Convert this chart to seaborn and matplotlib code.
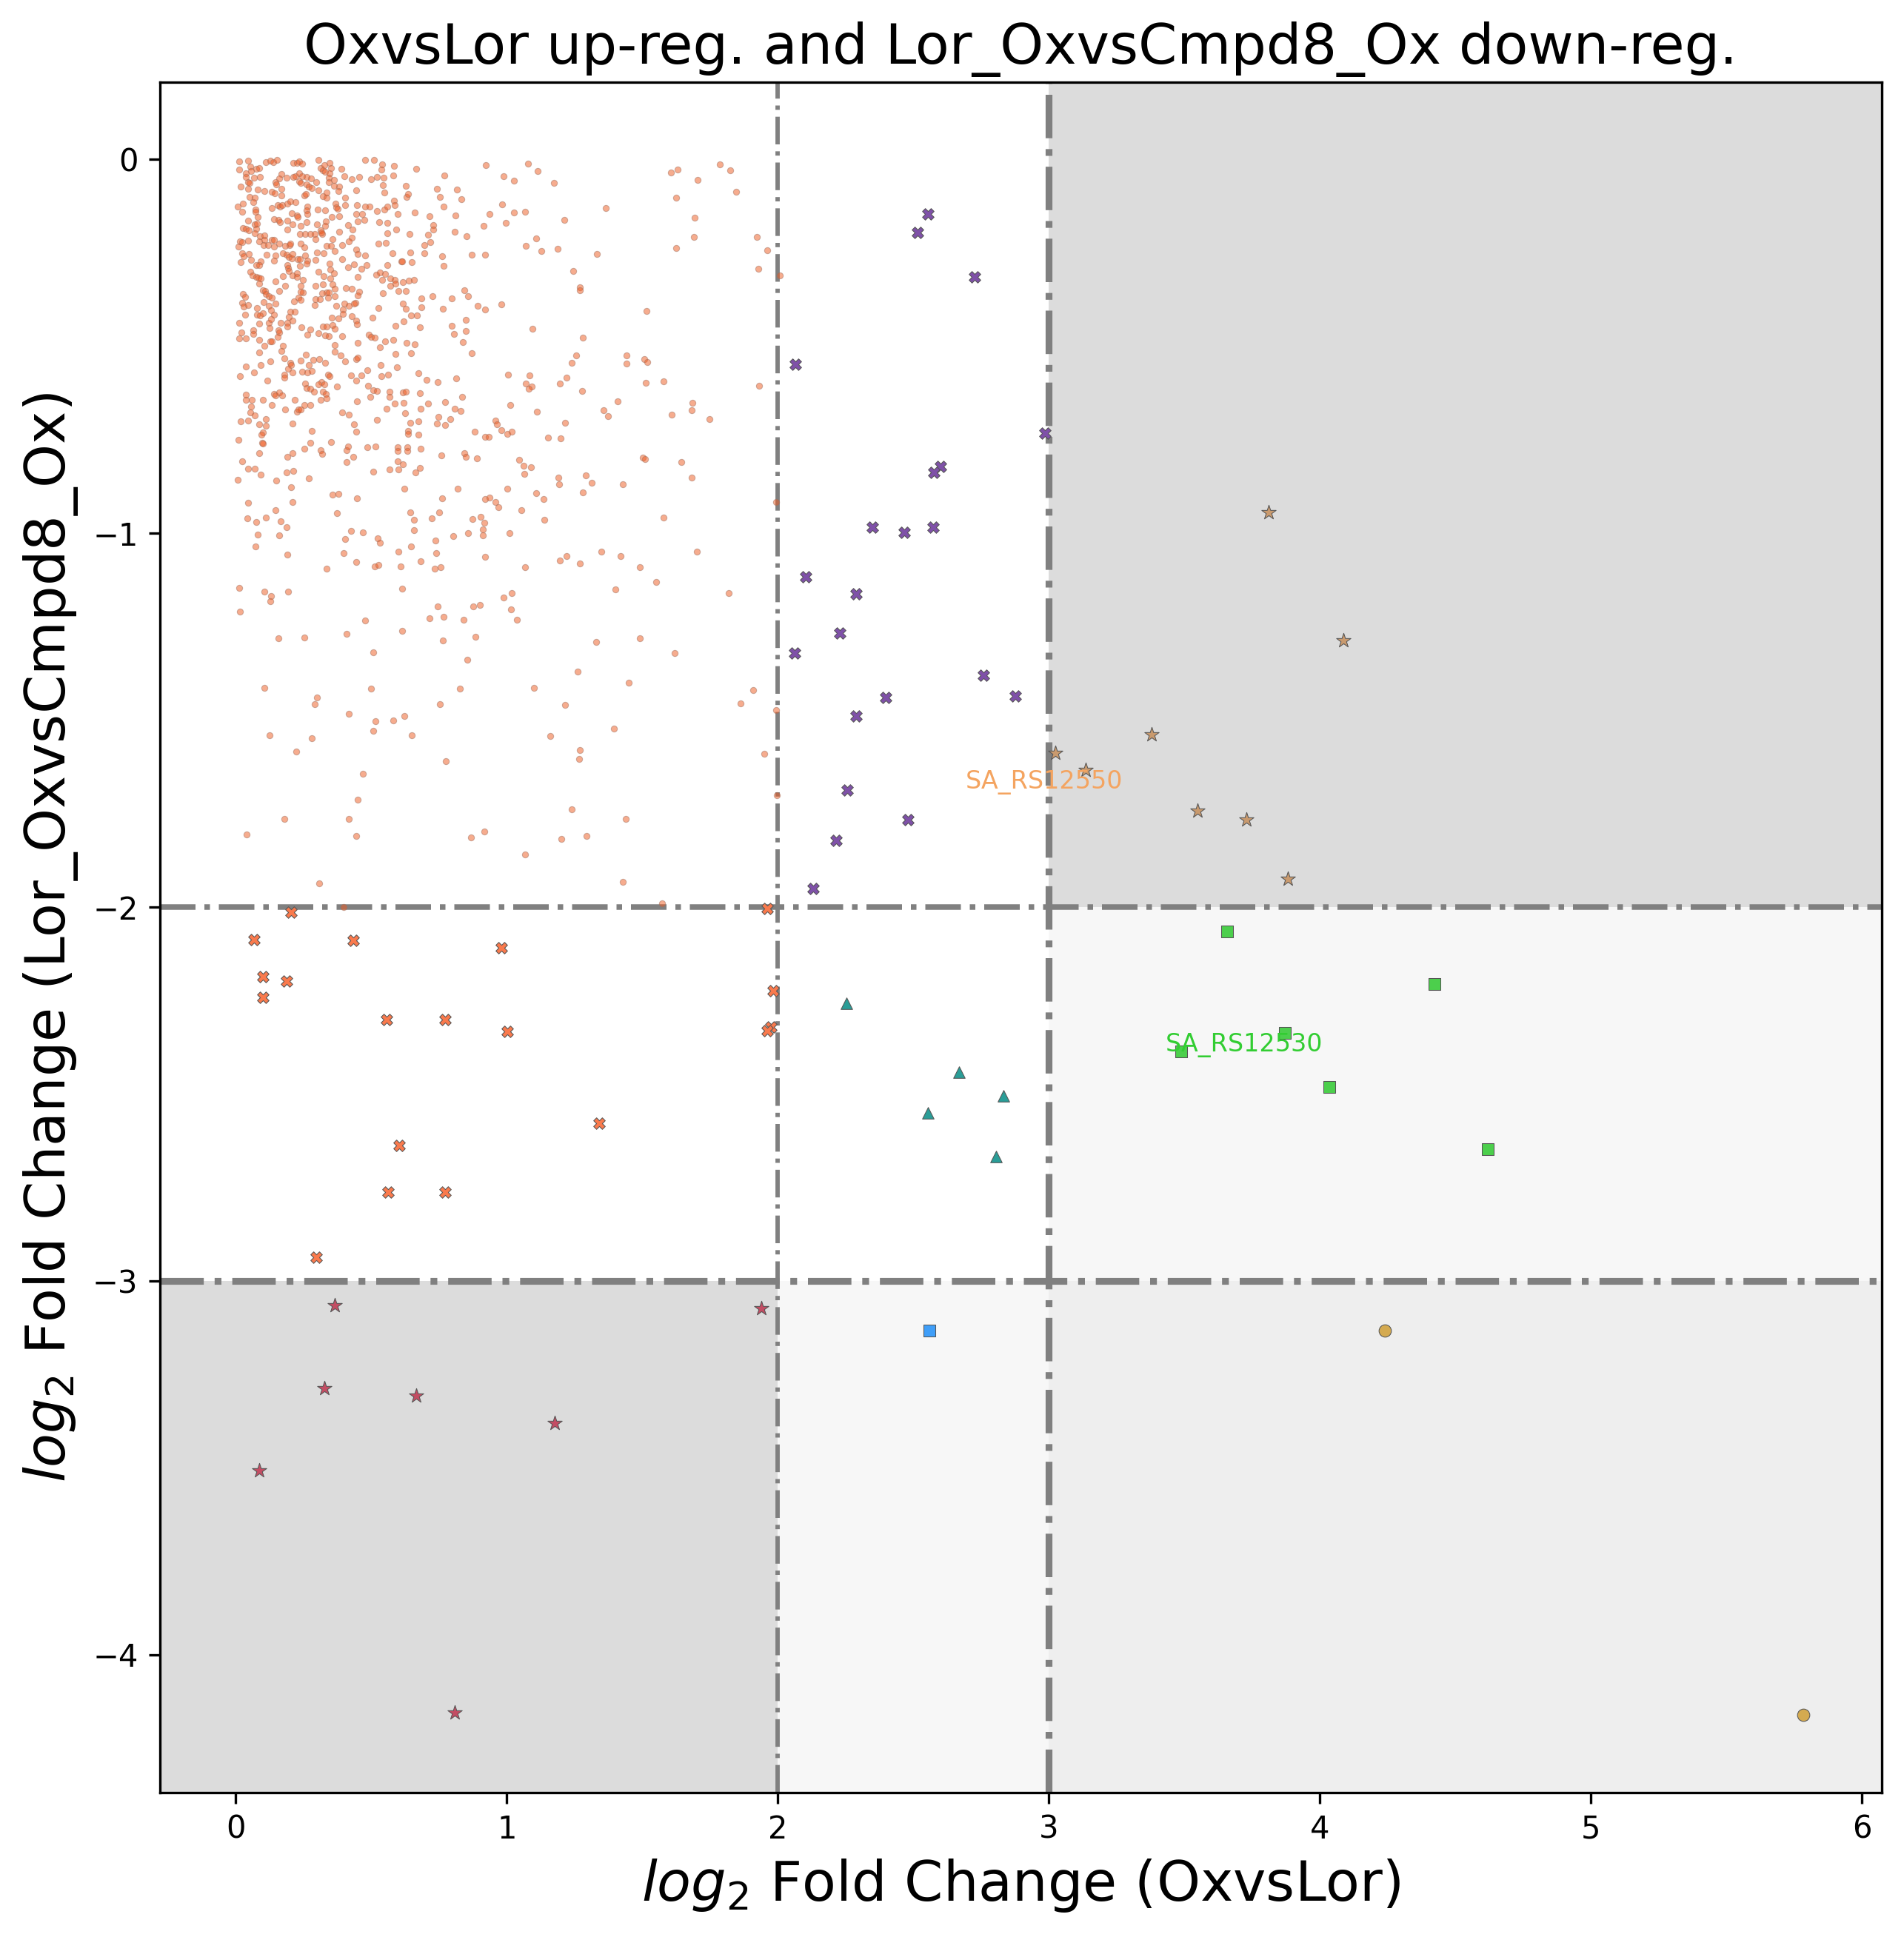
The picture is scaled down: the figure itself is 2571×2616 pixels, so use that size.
import numpy as np
import pandas as pd
import matplotlib
matplotlib.use("Agg")
import matplotlib.pyplot as plt
import seaborn as sns

# thresholds
X_LOW, X_HIGH = 2, 3
Y_HIGH, Y_LOW = -2, -3

# background genes (log2FC OxvsLor, log2FC Lor_OxvsCmpd8_Ox)
bg_points = [
    (0.012, -0.005), (0.046, -0.004), (0.053, -0.020), (0.074, -0.024), (0.086, -0.022), (0.111, -0.008),
    (0.126, -0.004), (0.139, -0.007), (0.151, -0.002), (0.012, -0.026), (0.037, -0.036), (0.056, -0.030),
    (0.212, -0.010), (0.226, -0.009), (0.235, -0.005), (0.244, -0.012), (0.306, -0.001), (0.314, -0.022),
    (0.328, -0.015), (0.345, -0.010), (0.350, -0.022), (0.320, -0.029), (0.329, -0.032), (0.389, -0.024),
    (0.476, -0.002), (0.511, -0.002), (0.540, -0.013), (0.583, -0.018), (0.582, -0.042), (0.536, -0.027),
    (0.665, -0.024), (0.769, -0.042), (0.923, -0.016), (1.079, -0.012), (1.114, -0.030), (0.988, -0.044),
    (1.027, -0.056), (1.174, -0.062),
    (0.037, -0.046), (0.068, -0.049), (0.090, -0.047), (0.045, -0.060), (0.050, -0.062), (0.019, -0.073),
    (0.044, -0.079), (0.082, -0.081), (0.106, -0.085), (0.168, -0.039), (0.188, -0.049), (0.159, -0.050),
    (0.211, -0.046), (0.220, -0.044), (0.234, -0.036), (0.246, -0.044), (0.261, -0.046), (0.277, -0.050),
    (0.234, -0.058), (0.240, -0.063), (0.260, -0.067), (0.268, -0.073), (0.280, -0.076), (0.296, -0.060),
    (0.304, -0.083), (0.346, -0.036), (0.343, -0.049), (0.342, -0.061), (0.362, -0.054), (0.380, -0.073),
    (0.361, -0.071), (0.378, -0.084), (0.400, -0.044), (0.429, -0.053), (0.456, -0.046), (0.500, -0.052),
    (0.520, -0.046), (0.545, -0.048), (0.543, -0.069), (0.547, -0.089), (0.626, -0.071), (0.443, -0.083),
    (0.145, -0.061), (0.149, -0.067), (0.133, -0.087), (0.144, -0.090), (0.168, -0.079), (0.742, -0.079),
    (0.816, -0.081), (0.752, -0.101), (0.832, -0.107),
    (0.050, -0.101), (0.070, -0.103), (0.065, -0.114), (0.008, -0.125), (0.025, -0.118), (0.024, -0.139),
    (0.073, -0.133), (0.073, -0.140), (0.082, -0.154), (0.134, -0.130), (0.155, -0.122), (0.164, -0.125),
    (0.172, -0.122), (0.191, -0.119), (0.202, -0.112), (0.221, -0.114), (0.169, -0.097), (0.252, -0.097),
    (0.257, -0.093), (0.265, -0.126), (0.260, -0.136), (0.303, -0.133), (0.329, -0.136), (0.321, -0.099),
    (0.334, -0.103), (0.336, -0.089), (0.368, -0.118), (0.370, -0.128), (0.376, -0.132), (0.402, -0.103),
    (0.404, -0.122), (0.447, -0.122), (0.478, -0.126), (0.493, -0.126), (0.522, -0.138), (0.549, -0.133),
    (0.560, -0.126), (0.584, -0.111), (0.586, -0.122), (0.629, -0.100), (0.636, -0.093), (0.597, -0.146),
    (0.659, -0.142), (0.714, -0.151), (0.767, -0.125), (0.810, -0.149), (0.936, -0.145), (0.983, -0.121),
    (1.027, -0.142), (1.068, -0.139), (1.212, -0.161),
    (0.046, -0.164), (0.069, -0.173), (0.079, -0.172), (0.027, -0.183), (0.037, -0.185), (0.049, -0.189),
    (0.076, -0.185), (0.069, -0.197), (0.140, -0.160), (0.156, -0.161), (0.164, -0.168), (0.190, -0.164),
    (0.210, -0.174), (0.226, -0.149), (0.229, -0.153), (0.206, -0.144), (0.240, -0.177), (0.262, -0.168),
    (0.265, -0.146), (0.299, -0.173), (0.331, -0.166), (0.329, -0.178), (0.313, -0.190), (0.319, -0.199),
    (0.355, -0.153), (0.381, -0.151), (0.382, -0.194), (0.415, -0.176), (0.431, -0.188), (0.428, -0.210),
    (0.475, -0.161), (0.451, -0.166), (0.444, -0.146), (0.466, -0.146), (0.528, -0.168), (0.560, -0.169),
    (0.558, -0.197), (0.591, -0.187), (0.640, -0.200), (0.728, -0.175), (0.728, -0.188), (0.807, -0.194),
    (0.851, -0.206), (0.914, -0.177), (0.996, -0.169), (0.709, -0.202), (1.107, -0.212), (0.191, -0.188),
    (0.237, -0.200), (0.256, -0.199), (0.274, -0.200), (0.291, -0.200), (0.293, -0.214), (0.317, -0.196),
    (0.010, -0.232), (0.014, -0.219), (0.024, -0.221), (0.044, -0.218), (0.088, -0.205), (0.105, -0.203),
    (0.087, -0.219), (0.105, -0.215), (0.132, -0.215), (0.141, -0.216), (0.103, -0.229), (0.118, -0.229),
    (0.140, -0.232), (0.159, -0.226), (0.181, -0.231), (0.197, -0.229), (0.202, -0.226), (0.240, -0.226),
    (0.252, -0.235), (0.334, -0.230), (0.352, -0.230), (0.366, -0.244), (0.358, -0.214), (0.392, -0.228),
    (0.418, -0.219), (0.444, -0.240), (0.449, -0.253), (0.525, -0.226), (0.553, -0.224), (0.579, -0.250),
    (0.612, -0.273), (0.645, -0.248), (0.648, -0.274), (0.696, -0.228), (0.718, -0.222), (0.695, -0.250),
    (0.761, -0.258), (0.766, -0.284), (0.870, -0.254), (0.920, -0.254), (1.070, -0.230), (1.128, -0.244),
    (1.187, -0.238), (0.022, -0.250), (0.048, -0.252), (0.030, -0.258), (0.057, -0.268), (0.018, -0.274),
    (0.092, -0.272), (0.114, -0.254), (0.145, -0.256), (0.140, -0.270), (0.173, -0.251), (0.187, -0.254),
    (0.196, -0.260), (0.207, -0.264), (0.209, -0.252), (0.227, -0.267), (0.236, -0.266), (0.255, -0.256),
    (0.263, -0.270), (0.293, -0.268), (0.299, -0.248), (0.325, -0.250), (0.347, -0.278), (0.393, -0.266),
    (0.435, -0.280), (0.478, -0.256),
    (0.053, -0.300), (0.061, -0.310), (0.076, -0.314), (0.084, -0.316), (0.093, -0.318), (0.085, -0.331),
    (0.076, -0.282), (0.085, -0.283), (0.147, -0.326), (0.174, -0.313), (0.183, -0.337), (0.191, -0.282),
    (0.192, -0.290), (0.195, -0.298), (0.210, -0.311), (0.225, -0.305), (0.226, -0.315), (0.236, -0.284),
    (0.247, -0.323), (0.240, -0.337), (0.261, -0.278), (0.304, -0.300), (0.294, -0.337), (0.324, -0.313),
    (0.320, -0.333), (0.348, -0.294), (0.363, -0.304), (0.348, -0.319), (0.358, -0.333), (0.413, -0.288),
    (0.463, -0.292), (0.482, -0.282), (0.449, -0.315), (0.517, -0.308), (0.531, -0.302), (0.551, -0.307),
    (0.539, -0.323), (0.559, -0.282), (0.570, -0.319), (0.569, -0.337), (0.586, -0.322), (0.590, -0.331),
    (0.616, -0.329), (0.637, -0.325), (0.657, -0.323), (0.614, -0.273), (0.599, -0.351), (0.626, -0.351),
    (0.099, -0.350), (0.107, -0.351), (0.026, -0.360), (0.035, -0.368), (0.022, -0.383), (0.029, -0.393),
    (0.046, -0.389), (0.110, -0.360), (0.121, -0.365), (0.132, -0.369), (0.146, -0.385), (0.102, -0.381),
    (0.079, -0.397), (0.101, -0.412), (0.035, -0.415), (0.078, -0.416), (0.088, -0.417), (0.123, -0.392),
    (0.129, -0.404), (0.140, -0.415), (0.161, -0.351), (0.215, -0.379), (0.231, -0.369), (0.238, -0.376),
    (0.247, -0.356), (0.202, -0.407), (0.218, -0.407), (0.195, -0.421), (0.208, -0.431), (0.239, -0.354),
    (0.290, -0.389), (0.294, -0.374), (0.310, -0.373), (0.318, -0.358), (0.335, -0.356), (0.343, -0.356),
    (0.341, -0.370), (0.365, -0.345), (0.364, -0.365), (0.406, -0.343), (0.428, -0.345), (0.454, -0.353),
    (0.449, -0.363), (0.442, -0.384), (0.437, -0.386), (0.370, -0.391), (0.400, -0.386), (0.396, -0.401),
    (0.394, -0.413), (0.418, -0.392), (0.427, -0.419), (0.354, -0.423), (0.378, -0.425), (0.504, -0.423),
    (0.527, -0.397), (0.543, -0.357), (0.616, -0.385), (0.626, -0.399), (0.685, -0.371), (0.684, -0.395),
    (0.725, -0.365), (0.764, -0.399), (0.796, -0.371), (0.843, -0.349), (0.857, -0.365), (0.892, -0.391),
    (0.920, -0.401), (0.980, -0.387), (0.646, -0.417), (0.669, -0.417),
    (0.012, -0.437), (0.021, -0.462), (0.013, -0.478), (0.037, -0.478), (0.063, -0.457), (0.063, -0.467),
    (0.085, -0.438), (0.085, -0.482), (0.121, -0.437), (0.124, -0.450), (0.130, -0.428), (0.126, -0.487),
    (0.134, -0.486), (0.156, -0.456), (0.159, -0.462), (0.154, -0.474), (0.166, -0.437), (0.190, -0.437),
    (0.191, -0.447), (0.104, -0.498), (0.174, -0.498), (0.241, -0.448), (0.275, -0.454), (0.265, -0.468),
    (0.306, -0.464), (0.321, -0.446), (0.334, -0.446), (0.329, -0.470), (0.343, -0.472), (0.356, -0.442),
    (0.365, -0.452), (0.391, -0.472), (0.445, -0.431), (0.446, -0.440), (0.449, -0.490), (0.490, -0.468),
    (0.500, -0.474), (0.513, -0.476), (0.552, -0.486), (0.580, -0.482), (0.588, -0.444), (0.618, -0.433),
    (0.629, -0.490), (0.659, -0.494), (0.678, -0.448), (0.796, -0.444), (0.805, -0.466), (0.838, -0.488),
    (0.849, -0.429), (0.849, -0.458), (1.095, -0.452), (0.531, -0.502), (0.588, -0.520), (0.646, -0.518),
    (0.871, -0.518),
    (0.087, -0.516), (0.167, -0.512), (0.178, -0.532), (0.200, -0.543), (0.204, -0.550), (0.194, -0.560),
    (0.210, -0.569), (0.093, -0.550), (0.126, -0.540), (0.036, -0.554), (0.068, -0.569), (0.015, -0.579),
    (0.115, -0.591), (0.178, -0.575), (0.178, -0.583), (0.238, -0.538), (0.245, -0.567), (0.257, -0.522),
    (0.264, -0.569), (0.270, -0.550), (0.280, -0.565), (0.287, -0.536), (0.307, -0.534), (0.329, -0.544),
    (0.341, -0.575), (0.347, -0.579), (0.366, -0.496), (0.366, -0.514), (0.388, -0.524), (0.404, -0.540),
    (0.445, -0.534), (0.451, -0.530), (0.425, -0.577), (0.445, -0.591), (0.462, -0.578), (0.484, -0.563),
    (0.534, -0.550), (0.536, -0.579), (0.561, -0.575), (0.594, -0.556), (0.675, -0.571), (0.704, -0.589),
    (0.744, -0.595), (0.813, -0.585), (1.005, -0.575), (1.085, -0.577), (1.070, -0.599), (1.092, -0.607),
    (1.082, -0.613), (1.196, -0.599), (1.221, -0.583),
    (0.036, -0.629), (0.036, -0.643), (0.058, -0.643), (0.057, -0.661), (0.054, -0.677), (0.071, -0.685),
    (0.101, -0.643), (0.134, -0.657), (0.140, -0.627), (0.145, -0.631), (0.160, -0.623), (0.171, -0.631),
    (0.183, -0.669), (0.218, -0.643), (0.225, -0.675), (0.232, -0.669), (0.240, -0.668), (0.255, -0.599),
    (0.260, -0.611), (0.275, -0.614), (0.288, -0.621), (0.315, -0.595), (0.304, -0.601), (0.326, -0.601),
    (0.320, -0.621), (0.332, -0.627), (0.334, -0.639), (0.314, -0.643), (0.254, -0.657), (0.274, -0.657),
    (0.374, -0.607), (0.391, -0.677), (0.416, -0.682), (0.447, -0.646), (0.487, -0.605), (0.496, -0.635),
    (0.507, -0.617), (0.521, -0.619), (0.566, -0.621), (0.566, -0.635), (0.555, -0.667), (0.586, -0.653),
    (0.616, -0.623), (0.626, -0.621), (0.619, -0.651), (0.624, -0.679), (0.680, -0.625), (0.709, -0.653),
    (0.682, -0.667), (0.773, -0.649), (0.808, -0.667), (0.830, -0.673), (0.835, -0.635), (1.013, -0.657),
    (1.111, -0.675), (0.747, -0.688), (0.741, -0.706), (0.772, -0.710), (0.792, -0.694), (0.958, -0.698),
    (0.963, -0.708), (0.981, -0.724), (1.002, -0.734), (1.019, -0.728), (0.882, -0.728), (0.919, -0.742),
    (0.934, -0.742), (1.152, -0.744), (1.199, -0.746), (1.215, -0.704), (0.019, -0.700), (0.046, -0.698),
    (0.087, -0.708), (0.110, -0.694), (0.110, -0.712), (0.101, -0.730), (0.095, -0.736), (0.210, -0.706),
    (0.280, -0.726), (0.435, -0.708), (0.444, -0.728), (0.521, -0.696), (0.643, -0.704), (0.673, -0.700),
    (0.636, -0.726), (0.636, -0.734), (0.673, -0.736), (0.011, -0.750), (0.098, -0.758), (0.276, -0.758),
    (0.350, -0.756),
    (0.008, -0.857), (0.022, -0.808), (0.045, -0.827), (0.071, -0.827), (0.093, -0.843), (0.085, -0.786),
    (0.099, -0.760), (0.150, -0.859), (0.188, -0.837), (0.213, -0.833), (0.191, -0.796), (0.210, -0.786),
    (0.252, -0.774), (0.268, -0.853), (0.203, -0.877), (0.208, -0.917), (0.046, -0.919), (0.145, -0.938),
    (0.043, -0.960), (0.074, -0.970), (0.110, -0.958), (0.166, -0.968), (0.186, -0.984), (0.082, -1.004),
    (0.159, -1.006), (0.073, -1.036), (0.191, -1.056), (0.312, -0.778), (0.318, -0.788), (0.410, -0.778),
    (0.414, -0.768), (0.434, -0.796), (0.410, -0.810), (0.484, -0.770), (0.514, -0.768), (0.598, -0.770),
    (0.597, -0.780), (0.633, -0.769), (0.633, -0.780), (0.681, -0.774), (0.598, -0.808), (0.616, -0.815),
    (0.566, -0.829), (0.599, -0.829), (0.508, -0.835), (0.678, -0.825), (0.663, -0.837), (0.758, -0.792),
    (0.842, -0.786), (0.848, -0.796), (0.890, -0.800), (0.623, -0.881), (0.818, -0.881), (0.761, -0.907),
    (0.358, -0.897), (0.379, -0.895), (0.446, -0.907), (0.372, -0.947), (0.424, -0.994), (0.468, -0.998),
    (0.404, -1.016), (0.399, -1.052), (0.443, -1.076), (0.523, -1.014), (0.533, -1.026), (0.512, -1.089),
    (0.525, -1.085), (0.336, -1.095), (0.599, -1.050), (0.608, -1.088), (0.646, -1.036), (0.657, -0.964),
    (0.643, -0.945), (0.657, -0.992), (0.722, -0.960), (0.749, -0.945), (0.737, -1.020), (0.739, -1.052),
    (0.682, -1.074), (0.733, -1.095), (0.756, -1.091), (0.802, -1.008), (0.857, -1.000), (0.873, -0.962),
    (0.903, -0.955), (0.916, -0.972), (0.912, -0.990), (0.912, -1.006), (0.919, -1.063), (1.011, -1.000),
    (1.067, -1.091), (0.920, -0.909), (0.936, -0.905), (0.959, -0.917), (0.969, -0.931), (1.054, -0.938),
    (1.046, -0.804), (1.063, -0.820), (1.090, -0.824), (1.065, -0.841), (1.003, -0.881), (1.107, -0.893),
    (1.136, -0.909), (1.139, -0.964), (1.191, -0.851), (1.194, -0.869), (1.196, -1.072),
    (0.012, -1.147), (0.106, -1.155), (0.129, -1.167), (0.128, -1.181), (0.194, -1.155), (0.015, -1.210),
    (0.613, -1.149), (0.744, -1.195), (0.714, -1.228), (0.768, -1.224), (0.841, -1.232), (0.875, -1.195),
    (0.900, -1.191), (0.988, -1.171), (1.018, -1.159), (1.015, -1.204), (1.037, -1.232), (0.478, -1.234),
    (0.410, -1.268), (0.613, -1.260), (0.764, -1.286), (0.884, -1.276), (0.158, -1.280), (0.252, -1.278),
    (0.506, -1.318), (0.854, -1.339), (0.106, -1.413), (0.298, -1.440), (0.292, -1.458), (0.500, -1.415),
    (0.752, -1.457), (0.826, -1.415), (1.100, -1.413), (1.216, -1.460), (0.416, -1.482), (0.514, -1.502),
    (0.580, -1.500), (0.621, -1.488), (0.508, -1.528), (0.648, -1.540), (0.125, -1.540), (0.280, -1.548),
    (1.160, -1.542),
    (1.364, -0.129), (1.331, -0.252), (1.245, -0.299), (1.270, -0.341), (1.270, -0.349), (1.516, -0.406),
    (1.281, -0.476), (1.256, -0.525), (1.239, -0.543), (1.443, -0.525), (1.441, -0.545), (1.507, -0.535),
    (1.519, -0.542), (1.513, -0.597), (1.579, -0.593), (1.278, -0.619), (1.408, -0.647), (1.356, -0.671),
    (1.372, -0.686), (1.607, -0.682), (1.681, -0.671), (1.684, -0.651), (1.748, -0.694), (1.502, -0.798),
    (1.510, -0.802), (1.643, -0.810), (1.681, -0.851), (1.292, -0.845), (1.314, -0.865), (1.427, -0.869),
    (1.281, -0.890), (1.577, -0.958), (1.994, -0.917), (1.606, -0.034), (1.629, -0.026), (1.705, -0.054),
    (1.787, -0.014), (1.825, -0.028), (1.847, -0.087), (1.626, -0.103), (1.693, -0.156), (1.690, -0.208),
    (1.626, -0.236), (1.922, -0.207), (1.960, -0.242), (1.927, -0.292), (2.006, -0.311), (1.932, -0.606),
    (1.22, -1.06), (1.27, -1.08), (1.35, -1.05), (1.42, -1.06), (1.49, -1.09), (1.40, -1.15),
    (1.55, -1.13), (1.70, -1.05), (1.82, -1.16), (1.33, -1.29), (1.49, -1.28), (1.26, -1.37),
    (1.62, -1.32), (1.91, -1.42), (1.45, -1.40),
    (0.223, -1.583), (0.468, -1.643), (0.451, -1.712), (0.179, -1.764), (0.418, -1.764), (0.040, -1.806),
    (0.443, -1.810), (0.868, -1.813), (0.918, -1.798), (1.067, -1.859), (1.200, -1.817), (1.293, -1.810),
    (1.240, -1.738), (1.440, -1.764), (0.308, -1.937), (0.399, -2.000), (1.428, -1.933), (1.572, -1.990),
    (0.775, -1.609), (1.266, -1.603), (1.270, -1.579), (1.396, -1.522), (1.950, -1.589), (1.994, -1.472),
    (1.997, -1.700), (1.863, -1.456),
]
bg_x = [p[0] for p in bg_points]
bg_y = [p[1] for p in bg_points]

# up in OxvsLor (2-3), down in Lor_OxvsCmpd8_Ox (0 to -2)
purple_x = [2.553, 2.517, 2.727, 2.066, 2.987, 2.599, 2.576, 2.348, 2.467, 2.572, 2.102,
            2.289, 2.230, 2.061, 2.759, 2.877, 2.399, 2.289, 2.257, 2.481, 2.216, 2.130]
purple_y = [-0.145, -0.195, -0.314, -0.548, -0.733, -0.822, -0.838, -0.983, -0.997, -0.983, -1.116,
            -1.162, -1.267, -1.320, -1.380, -1.436, -1.439, -1.488, -1.686, -1.766, -1.822, -1.950]

tan_x = [3.812, 4.086, 3.379, 3.023, 3.137, 3.548, 3.730, 3.881]
tan_y = [-0.944, -1.287, -1.538, -1.587, -1.634, -1.743, -1.766, -1.924]

coral_x = [0.068, 0.205, 0.100, 0.100, 0.187, 0.433, 0.980, 0.556, 0.771, 1.003,
           1.961, 1.984, 1.974, 1.961, 1.341, 0.602, 0.561, 0.771, 0.296]
coral_y = [-2.086, -2.013, -2.185, -2.241, -2.198, -2.089, -2.109, -2.300, -2.300, -2.333,
           -2.003, -2.224, -2.320, -2.330, -2.578, -2.637, -2.762, -2.762, -2.937]

teal_x = [2.253, 2.668, 2.832, 2.553, 2.804]
teal_y = [-2.257, -2.442, -2.505, -2.551, -2.667]

green_x = [3.657, 4.423, 3.871, 3.488, 4.036, 4.619]
green_y = [-2.066, -2.205, -2.337, -2.386, -2.482, -2.647]

blue_x = [2.558]
blue_y = [-3.132]

gold_x = [4.241, 5.784]
gold_y = [-3.132, -4.160]

crimson_x = [0.365, 1.938, 0.328, 0.666, 1.176, 0.087, 0.807]
crimson_y = [-3.066, -3.073, -3.287, -3.307, -3.380, -3.508, -4.155]

labels = ["SA_RS12550", "SA_RS12530"]
label_x = [2.984, 3.721]
label_y = [-1.667, -2.370]
label_colors = ["#f4a460", "limegreen"]

groups = [
    (bg_x, bg_y, "o", "#ef5a1f", 4, 0.5, "#a0705e"),
    (purple_x, purple_y, "X", "#7f51a8", 14, 1.0, "#555555"),
    (tan_x, tan_y, "*", "#c99a6e", 24, 1.0, "#555555"),
    (coral_x, coral_y, "X", "#f97a4d", 14, 1.0, "#555555"),
    (teal_x, teal_y, "^", "#2a9d97", 14, 1.0, "#555555"),
    (green_x, green_y, "s", "#4ccf4c", 13, 1.0, "#555555"),
    (blue_x, blue_y, "s", "#3f9ef8", 13, 1.0, "#555555"),
    (gold_x, gold_y, "o", "#d4aa50", 16, 1.0, "#555555"),
    (crimson_x, crimson_y, "*", "#c34d63", 24, 1.0, "#555555"),
]

fig = plt.figure(figsize=(2571 / 300, 2616 / 300), dpi=300)
ax = fig.add_axes([0.0839, 0.0747, 0.9043, 0.8829])

for xs, ys, marker, color, size, alpha, edge in groups:
    df = pd.DataFrame({"x": xs, "y": ys})
    sns.scatterplot(data=df, x="x", y="y", marker=marker, color=color, s=size,
                    alpha=alpha, edgecolor=edge, linewidth=0.25, ax=ax, zorder=3)

ax.autoscale_view()
xmin, xmax = ax.get_xlim()
ymin, ymax = ax.get_ylim()

# shaded quadrants
shades = [
    (X_HIGH, xmax, Y_HIGH, ymax, "#dcdcdc"),
    (xmin, X_LOW, ymin, Y_LOW, "#dcdcdc"),
    (X_HIGH, xmax, Y_LOW, Y_HIGH, "#f7f7f7"),
    (X_LOW, X_HIGH, ymin, Y_LOW, "#f7f7f7"),
    (X_HIGH, xmax, ymin, Y_LOW, "#eeeeee"),
]
for x0, x1, y0, y1, c in shades:
    ax.fill_between([x0, x1], y0, y1, color=c, lw=0, zorder=0)

ax.axvline(X_LOW, color="gray", ls="-.", lw=1.4, zorder=1)
ax.axvline(X_HIGH, color="gray", ls="-.", lw=2.2, zorder=1)
ax.axhline(Y_HIGH, color="gray", ls="-.", lw=1.8, zorder=1)
ax.axhline(Y_LOW, color="gray", ls="-.", lw=2.2, zorder=1)

for txt, tx, ty, tc in zip(labels, label_x, label_y, label_colors):
    ax.text(tx, ty, txt, color=tc, fontsize=8, ha="center", va="center", zorder=4)

ax.set_xlim(xmin, xmax)
ax.set_ylim(ymin, ymax)
ax.set_title("OxvsLor up-reg. and Lor_OxvsCmpd8_Ox down-reg.", fontsize=18)
ax.set_xlabel("$log_2$ Fold Change (OxvsLor)", fontsize=18)
ax.set_ylabel("$log_2$ Fold Change (Lor_OxvsCmpd8_Ox)", fontsize=18)
ax.tick_params(labelsize=10)

fig.savefig("out.png", dpi=300)
